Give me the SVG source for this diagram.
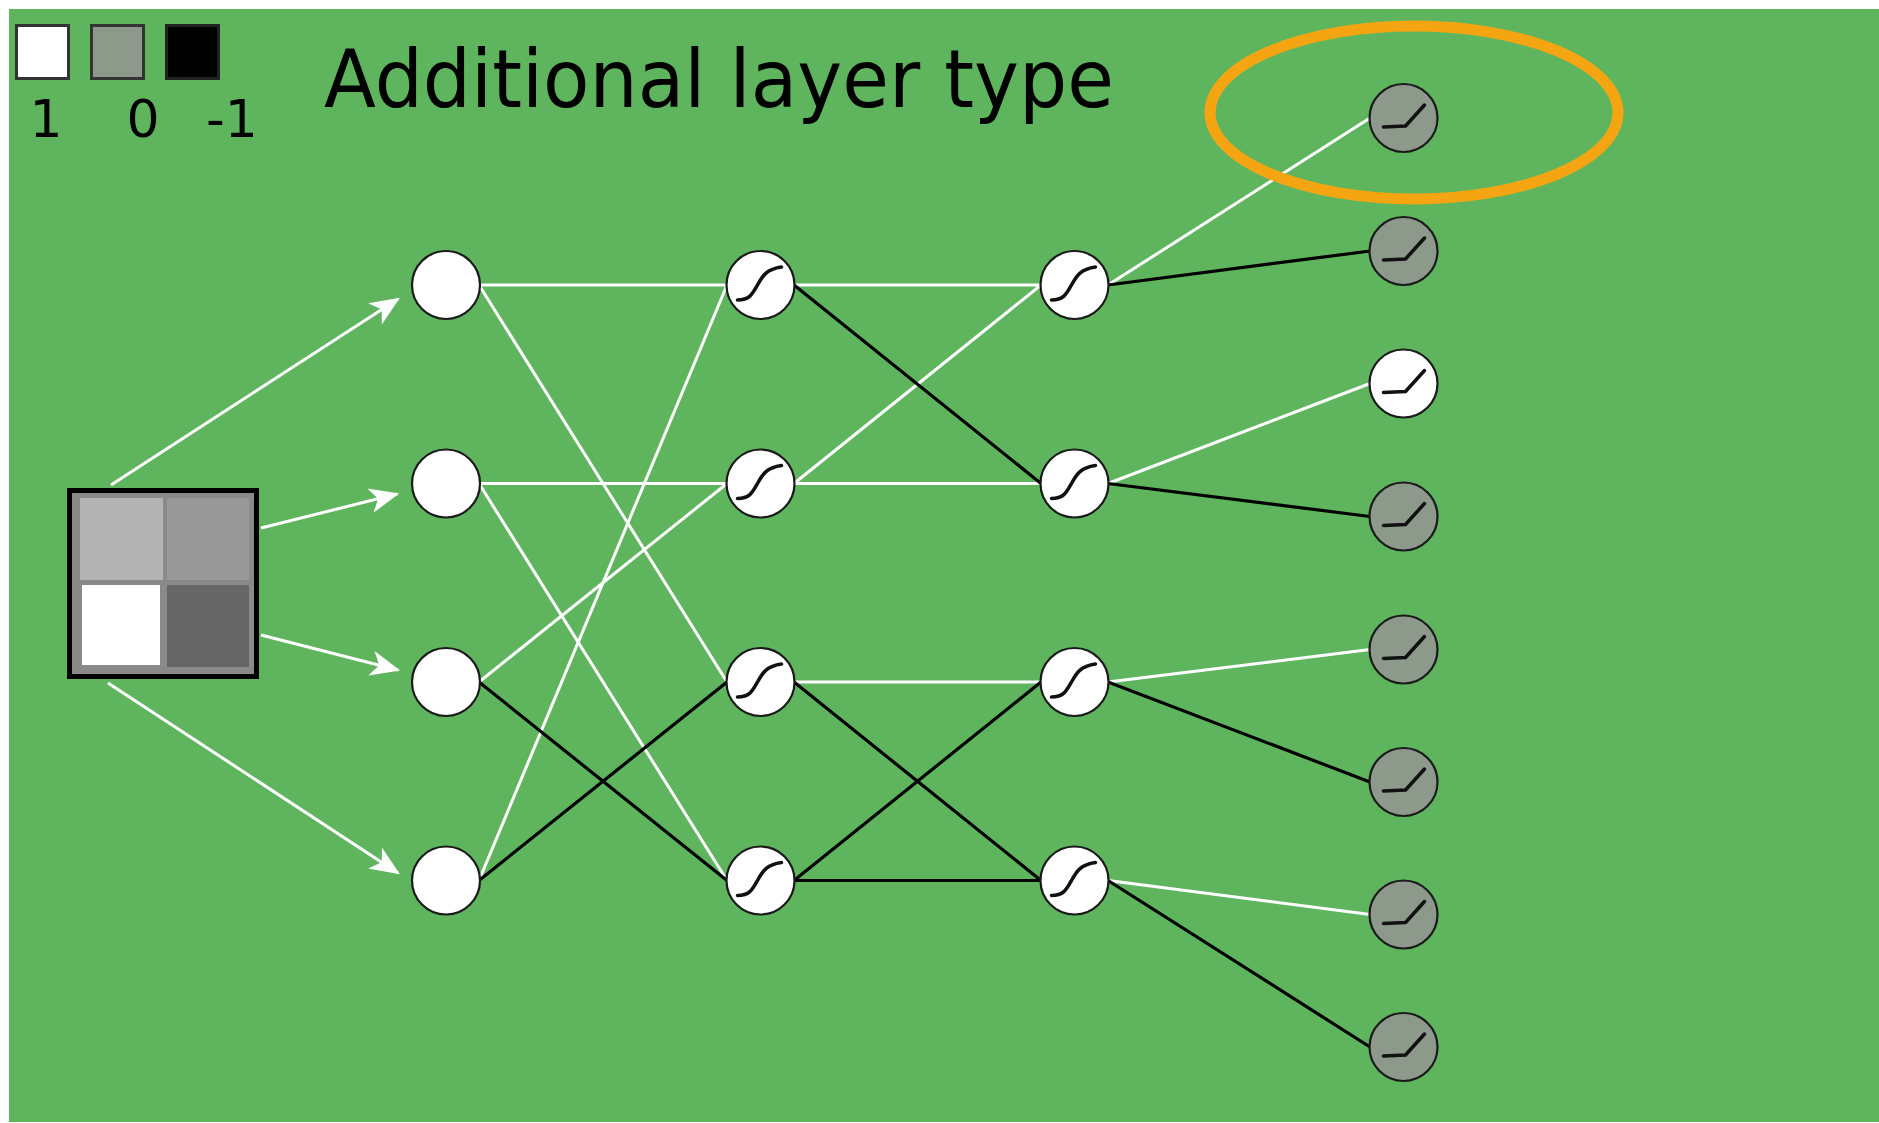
<svg xmlns="http://www.w3.org/2000/svg" width="1879" height="1123" viewBox="0 0 1879 1123">
<defs>
<style>
.bg{fill:#5fb55e}
.w{stroke:#ffffff;stroke-width:3;fill:none}
.k{stroke:#000000;stroke-width:3.2;fill:none}
.node{stroke:#1a1a1a;stroke-width:2.2}
.white{fill:#ffffff}
.grey{fill:#8d998b}
.sym{stroke:#111;stroke-width:3.5;fill:none;stroke-linecap:round;stroke-linejoin:round}
.lbl{font-family:"DejaVu Sans","Liberation Sans",sans-serif;fill:#000}
</style>
<marker id="ah" markerUnits="userSpaceOnUse" markerWidth="40" markerHeight="40" viewBox="-30 -15 35 30" refX="0" refY="0" orient="auto">
<path d="M2,0 L-24,-11 L-17,0 L-24,11 Z" fill="#ffffff"/>
</marker>
<path id="sig" d="M-23,15 C-11,15 -8,9 -3,0 C2,-9 6,-16 21,-18" class="sym"/>
<path id="relu" d="M-20,9 L2,8 L21,-13" class="sym"/>
</defs>
<rect class="bg" x="9" y="9" width="1870" height="1113"/>

<g id="legend">
<rect x="16.5" y="25.5" width="52" height="53" fill="#fff" stroke="#333" stroke-width="3"/>
<rect x="91.5" y="25.5" width="52" height="53" fill="#8d998b" stroke="#333" stroke-width="3"/>
<rect x="166.5" y="25.5" width="52" height="53" fill="#000" stroke="#222" stroke-width="3"/>
<text class="lbl" x="46" y="137" font-size="52" text-anchor="middle">1</text>
<text class="lbl" x="143" y="137" font-size="52" text-anchor="middle">0</text>
<text class="lbl" x="232" y="137" font-size="52" text-anchor="middle">-1</text>
</g>
<g id="title">
<text class="lbl" x="324" y="107" font-size="81" textLength="790" lengthAdjust="spacingAndGlyphs">Additional layer type</text>
</g>

<g id="connectors">
<line class="w" x1="111" y1="485" x2="398" y2="299" marker-end="url(#ah)"/>
<line class="w" x1="261" y1="528" x2="397" y2="494" marker-end="url(#ah)"/>
<line class="w" x1="261" y1="635" x2="398" y2="670" marker-end="url(#ah)"/>
<line class="w" x1="108" y1="683" x2="398" y2="873" marker-end="url(#ah)"/>

<line class="w" x1="479" y1="285" x2="727" y2="285"/>
<line class="w" x1="479" y1="285" x2="727" y2="682"/>
<line class="w" x1="479" y1="483.5" x2="727" y2="483.5"/>
<line class="w" x1="479" y1="483.5" x2="727" y2="880.5"/>
<line class="w" x1="479" y1="682" x2="727" y2="483.5"/>
<line class="w" x1="479" y1="880.5" x2="727" y2="285"/>
<line class="k" x1="479" y1="682" x2="727" y2="880.5"/>
<line class="k" x1="479" y1="880.5" x2="727" y2="682"/>

<line class="w" x1="794" y1="285" x2="1041" y2="285"/>
<line class="w" x1="794" y1="483.5" x2="1041" y2="285"/>
<line class="w" x1="794" y1="483.5" x2="1041" y2="483.5"/>
<line class="w" x1="794" y1="682" x2="1041" y2="682"/>
<line class="k" x1="794" y1="285" x2="1041" y2="483.5"/>
<line class="k" x1="794" y1="682" x2="1041" y2="880.5"/>
<line class="k" x1="794" y1="880.5" x2="1041" y2="682"/>
<line class="k" x1="794" y1="880.5" x2="1041" y2="880.5"/>

<line class="w" x1="1108" y1="285" x2="1370" y2="118"/>
<line class="k" x1="1108" y1="285" x2="1370" y2="251"/>
<line class="w" x1="1108" y1="483.5" x2="1370" y2="383.5"/>
<line class="k" x1="1108" y1="483.5" x2="1370" y2="516.5"/>
<line class="w" x1="1108" y1="682" x2="1370" y2="649.5"/>
<line class="k" x1="1108" y1="682" x2="1370" y2="782"/>
<line class="w" x1="1108" y1="880.5" x2="1370" y2="914.5"/>
<line class="k" x1="1108" y1="880.5" x2="1370" y2="1047"/>
</g>

<g id="input">
<rect x="69.5" y="490.5" width="187" height="186" fill="#8a8a8a" stroke="#000" stroke-width="5"/>
<rect x="80" y="498" width="83" height="82" fill="#b3b3b3"/>
<rect x="167" y="498" width="82" height="82" fill="#999999"/>
<rect x="82" y="585" width="78" height="80" fill="#ffffff"/>
<rect x="167" y="585" width="82" height="82" fill="#666666"/>
</g>

<g id="l1n1"><circle class="node white" cx="446" cy="285" r="34"/></g>
<g id="l1n2"><circle class="node white" cx="446" cy="483.5" r="34"/></g>
<g id="l1n3"><circle class="node white" cx="446" cy="682" r="34"/></g>
<g id="l1n4"><circle class="node white" cx="446" cy="880.5" r="34"/></g>

<g id="l2n1" transform="translate(760.5,285)"><circle class="node white" r="34"/><use href="#sig"/></g>
<g id="l2n2" transform="translate(760.5,483.5)"><circle class="node white" r="34"/><use href="#sig"/></g>
<g id="l2n3" transform="translate(760.5,682)"><circle class="node white" r="34"/><use href="#sig"/></g>
<g id="l2n4" transform="translate(760.5,880.5)"><circle class="node white" r="34"/><use href="#sig"/></g>

<g id="l3n1" transform="translate(1074.5,285)"><circle class="node white" r="34"/><use href="#sig"/></g>
<g id="l3n2" transform="translate(1074.5,483.5)"><circle class="node white" r="34"/><use href="#sig"/></g>
<g id="l3n3" transform="translate(1074.5,682)"><circle class="node white" r="34"/><use href="#sig"/></g>
<g id="l3n4" transform="translate(1074.5,880.5)"><circle class="node white" r="34"/><use href="#sig"/></g>

<g id="o1" transform="translate(1403.5,118)"><circle class="node grey" r="34"/><use href="#relu"/></g>
<g id="o2" transform="translate(1403.5,251)"><circle class="node grey" r="34"/><use href="#relu"/></g>
<g id="o3" transform="translate(1403.5,383.5)"><circle class="node white" r="34"/><use href="#relu"/></g>
<g id="o4" transform="translate(1403.5,516.5)"><circle class="node grey" r="34"/><use href="#relu"/></g>
<g id="o5" transform="translate(1403.5,649.5)"><circle class="node grey" r="34"/><use href="#relu"/></g>
<g id="o6" transform="translate(1403.5,782)"><circle class="node grey" r="34"/><use href="#relu"/></g>
<g id="o7" transform="translate(1403.5,914.5)"><circle class="node grey" r="34"/><use href="#relu"/></g>
<g id="o8" transform="translate(1403.5,1047)"><circle class="node grey" r="34"/><use href="#relu"/></g>

<g id="highlight">
<ellipse cx="1414" cy="112.5" rx="204" ry="86.5" fill="none" stroke="#f5a512" stroke-width="11"/>
</g>
</svg>
